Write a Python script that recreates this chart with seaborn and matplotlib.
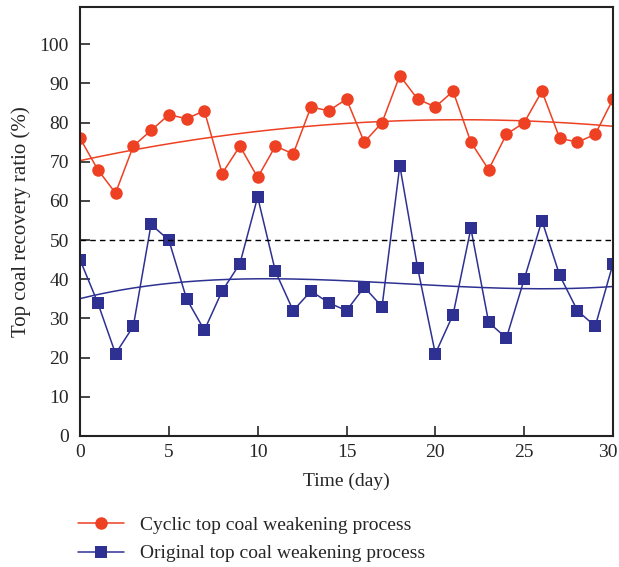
import matplotlib
matplotlib.use("Agg")
import matplotlib.pyplot as plt
import matplotlib.transforms as mtransforms
import numpy as np
import pandas as pd
import seaborn as sns

days = list(range(31))
cyclic = [76, 68, 62, 74, 78, 82, 81, 83, 67, 74, 66, 74, 72, 84, 83, 86,
          75, 80, 92, 86, 84, 88, 75, 68, 77, 80, 88, 76, 75, 77, 86]
original = [45, 34, 21, 28, 54, 50, 35, 27, 37, 44, 61, 42, 32, 37, 34, 32,
            38, 33, 69, 43, 21, 31, 53, 29, 25, 40, 55, 41, 32, 28, 44]
threshold = 50

red = "#EE4023"
blue = "#2E3192"

sns.set_style("ticks")
plt.rcParams["font.family"] = ["Liberation Serif", "DejaVu Serif"]

df = pd.DataFrame({"day": days, "cyclic": cyclic, "original": original})

fig = plt.figure(figsize=(6.19, 5.67), dpi=100)
ax = fig.add_axes([80 / 619, 1 - 436 / 567, 533 / 619, 429 / 567])

sns.lineplot(data=df, x="day", y="cyclic", ax=ax, color=red, marker="o",
             markersize=9, markeredgewidth=0, linewidth=1.1,
             label="Cyclic top coal weakening process")
sns.lineplot(data=df, x="day", y="original", ax=ax, color=blue, marker="s",
             markersize=8, markeredgewidth=0, linewidth=1.1,
             label="Original top coal weakening process")

# polynomial trend lines
xs = np.linspace(0, 30, 200)
fit_c = np.polyval(np.polyfit(days, cyclic, 2), xs)
fit_o = np.polyval(np.polyfit(days, original, 3), xs)
ax.plot(xs, fit_c, color=red, linewidth=1.1)
ax.plot(xs, fit_o, color=blue, linewidth=1.1)

ax.axhline(threshold, color="black", linestyle=(0, (4, 3)), linewidth=1)

ax.set_xlim(0, 30)
ax.set_ylim(0, 109.5)
ax.set_xticks(range(0, 31, 5))
ax.set_yticks(range(0, 101, 10))
ax.tick_params(direction="in", length=7, width=1.2, labelsize=14,
               top=False, right=False)
ax.tick_params(axis="y", pad=8)
ax.tick_params(axis="x", pad=6)
for s in ax.spines.values():
    s.set_linewidth(1.5)
    s.set_color("#222222")
ax.set_xlabel("Time (day)", fontsize=14, labelpad=8)
ax.set_ylabel("Top coal recovery ratio (%)", fontsize=15, labelpad=6)

# keep the last x tick label inside the figure
last = ax.get_xticklabels()[-1]
last.set_transform(last.get_transform() +
                   mtransforms.ScaledTranslation(-4 / 72, 0, fig.dpi_scale_trans))

handles, labels = ax.get_legend_handles_labels()
ax.get_legend().remove()
fig.legend(handles, labels, loc="upper left", frameon=False, fontsize=14,
           bbox_to_anchor=(60 / 619, 1 - 499 / 567), handlelength=2.4,
           labelspacing=0.55)

fig.savefig("out.png", dpi=100)
